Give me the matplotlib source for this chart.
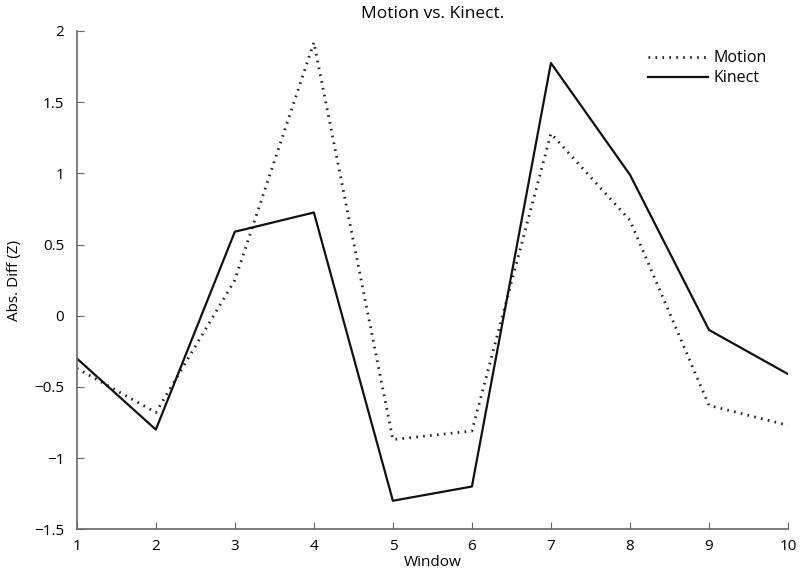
import matplotlib.pyplot as plt
from matplotlib.ticker import FuncFormatter

plt.rcParams['font.family'] = ['Open Sans', 'DejaVu Sans']

window = [1, 2, 3, 4, 5, 6, 7, 8, 9, 10]
motion = [-0.37, -0.68, 0.25, 1.92, -0.87, -0.81, 1.28, 0.67, -0.63, -0.77]
kinect = [-0.30, -0.80, 0.59, 0.725, -1.30, -1.20, 1.775, 0.99, -0.10, -0.41]

fig = plt.figure(figsize=(8, 5.74), dpi=100)
ax = fig.add_axes([0.096, 0.078, 0.889, 0.868])

ax.plot(window, motion, color='#222222', lw=2.0, linestyle=(0, (0.6, 1.9)), label='Motion')
ax.plot(window, kinect, color='#111111', lw=1.6, label='Kinect')

ax.set_xlim(1, 10)
ax.set_ylim(-1.5, 2)
ax.set_xticks(window)
ax.set_yticks([-1.5, -1, -0.5, 0, 0.5, 1, 1.5, 2])
ax.yaxis.set_major_formatter(FuncFormatter(lambda v, p: '{:g}'.format(v).replace('-', '\u2212')))

for s in ['top', 'right']:
    ax.spines[s].set_visible(False)
for s in ['left', 'bottom']:
    ax.spines[s].set_color('#666666')
    ax.spines[s].set_linewidth(1.2)
ax.tick_params(direction='in', length=5, color='#666666', labelsize=11, pad=9)
ax.tick_params(axis='x', pad=7)

ax.set_title('Motion vs. Kinect.', fontsize=12.5, pad=9)
ax.set_xlabel('Window', fontsize=11, labelpad=1)
ax.set_ylabel('Abs. Diff (Z)', fontsize=11, labelpad=9)

ax.legend(loc='upper right', frameon=False, fontsize=11.5, handlelength=3.8,
          handletextpad=0.3, labelspacing=0.25, bbox_to_anchor=(0.99, 0.99))

fig.savefig('out.png', dpi=100)
